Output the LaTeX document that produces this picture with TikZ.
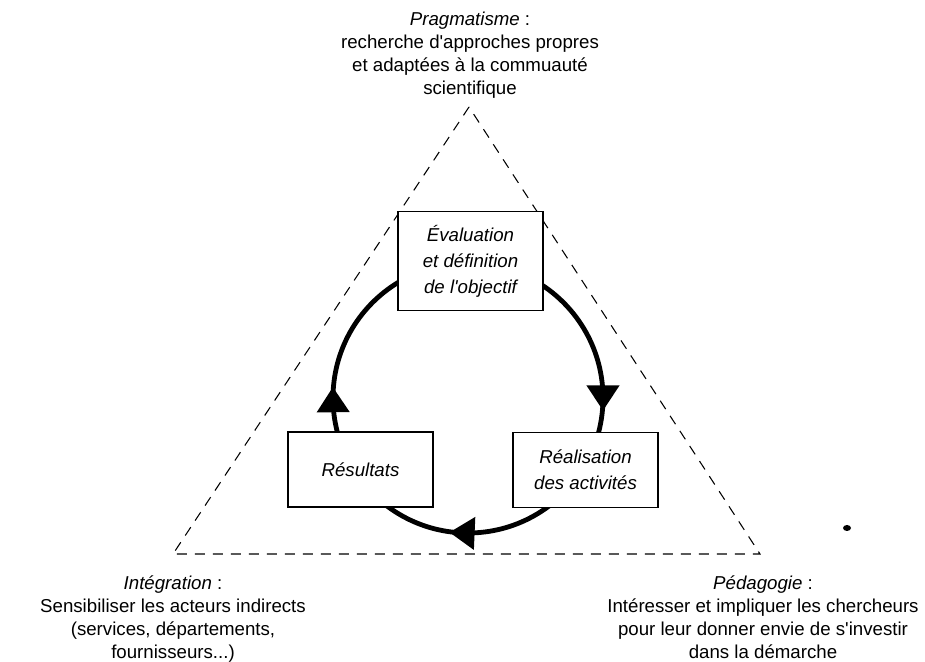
\documentclass[tikz,border=0pt]{standalone}
\usepackage{fontspec}
\setmainfont{Liberation Sans}
\usetikzlibrary{decorations.markings}
% filled triangular head placed along the cycle
\newcommand\cyclehead{\fill (9.4pt,0) -- (-9.4pt,12.4pt) -- (-9.4pt,-12.4pt) -- cycle;}
\begin{document}
\begin{tikzpicture}[x=0.75pt,y=0.75pt,
  stage/.style={draw,line width=1.1pt,fill=white,minimum width=108.75pt,
    inner sep=0pt,align=center,font=\fontsize{14pt}{19.5pt}\selectfont\itshape},
  note/.style={inner sep=0pt,align=center,anchor=north,
    font=\fontsize{14pt}{17.25pt}\selectfont},
  frame/.style={line width=0.8pt,dash pattern=on 7.5pt off 6pt},
  cycleline/.style={line width=3.6pt}]
\useasboundingbox (0,0) rectangle (925,661);

% dashed triangle of the three principles
\coordinate (apex) at (469,554);
\coordinate (lcorner) at (173,107);
\coordinate (rcorner) at (760,107);
\draw[frame] (apex) -- (lcorner) -- (rcorner) -- cycle;

% clockwise cycle with three arrowheads
\coordinate (hub) at (468,263);
\draw[cycleline, postaction=decorate, decoration={markings,
    mark=at position 0.25 with {\cyclehead},
    mark=at position 0.507 with {\cyclehead},
    mark=at position 0.748 with {\cyclehead}}]
  (hub) ++(0,135) arc[start angle=90, end angle=-270, radius=101.25pt];

% the three stages
\node[stage,minimum height=74.25pt] (eval) at (470.5,400)
  {Évaluation\\et définition\\de l\textquotesingle objectif};
\node[stage,minimum height=56.25pt] (res) at (360.5,191.5) {Résultats};
\node[stage,minimum height=56.25pt] (real) at (585.5,191)
  {Réalisation\\des activités};

% principles at the corners
\node[note] (prag) at (470,649)
  {\textit{Pragmatisme} :\\recherche d\textquotesingle approches propres\\et adaptées à la commuauté\\scientifique};
\node[note] (integ) at (173,86)
  {\textit{Intégration} :\\Sensibiliser les acteurs indirects\\(services, départements,\\fournisseurs...)};
\node[note] (peda) at (763,86)
  {\textit{Pédagogie} :\\Intéresser et impliquer les chercheurs\\pour leur donner envie de s\textquotesingle investir\\dans la démarche};

\fill (847,133) ellipse (4 and 3);
\end{tikzpicture}
\end{document}
